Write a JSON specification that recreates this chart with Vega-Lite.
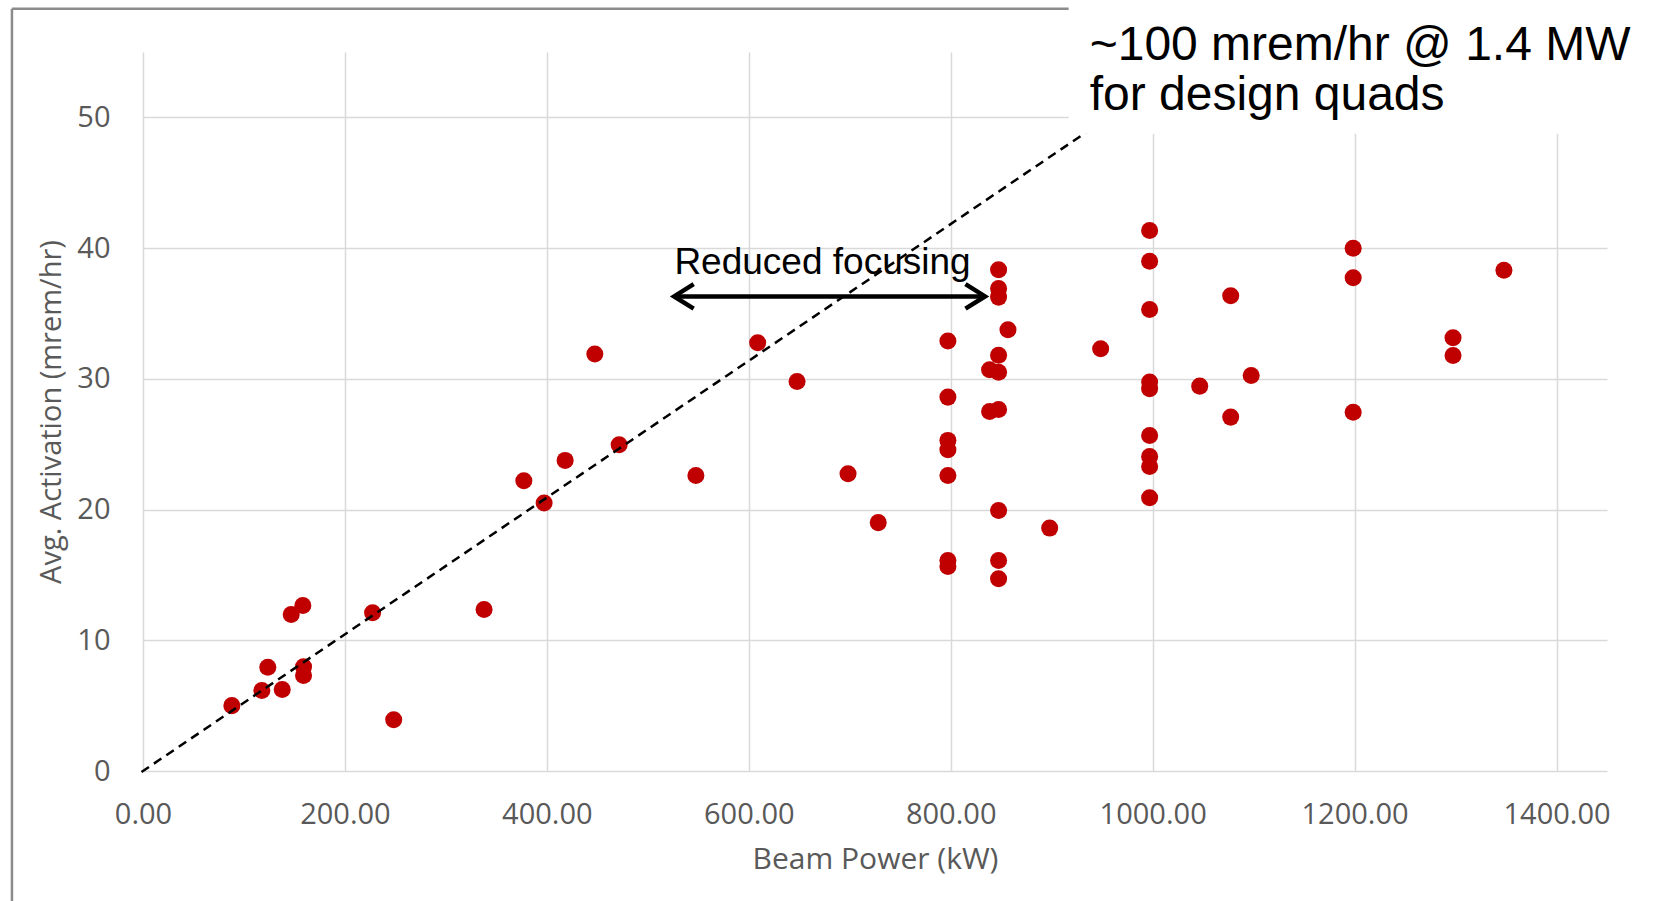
{
  "$schema": "https://vega.github.io/schema/vega-lite/v6.json",
  "width": 1464,
  "height": 719,
  "autosize": "none",
  "padding": {"left": 143, "top": 52, "right": 48, "bottom": 130},
  "background": "white",
  "config": {
    "view": {"stroke": null},
    "axis": {
      "labelFont": "Open Sans",
      "titleFont": "Open Sans",
      "labelColor": "#595959",
      "titleColor": "#595959",
      "labelFontSize": 29,
      "titleFontSize": 29,
      "titleFontWeight": "normal",
      "ticks": false,
      "tickSize": 0,
      "labelFlush": false,
      "gridColor": "#d9d9d9",
      "gridWidth": 1.5,
      "domain": false
    }
  },
  "data": {
    "values": [
      {"power": 88, "act": 5.0},
      {"power": 117.7, "act": 6.16},
      {"power": 123.6, "act": 7.93},
      {"power": 137.9, "act": 6.24},
      {"power": 146.8, "act": 11.97},
      {"power": 158.3, "act": 12.66},
      {"power": 159, "act": 7.98},
      {"power": 159, "act": 7.3},
      {"power": 227.4, "act": 12.1},
      {"power": 248.3, "act": 3.92},
      {"power": 337.8, "act": 12.36},
      {"power": 377.2, "act": 22.2},
      {"power": 397.3, "act": 20.5},
      {"power": 418.1, "act": 23.76},
      {"power": 447.5, "act": 31.9},
      {"power": 471.6, "act": 24.95},
      {"power": 547.6, "act": 22.6},
      {"power": 608.8, "act": 32.76},
      {"power": 647.8, "act": 29.8},
      {"power": 698.3, "act": 22.74},
      {"power": 728.2, "act": 19.0},
      {"power": 797.2, "act": 32.9},
      {"power": 797.2, "act": 28.6},
      {"power": 797.2, "act": 25.29},
      {"power": 797.2, "act": 24.57},
      {"power": 797.2, "act": 22.6},
      {"power": 797.2, "act": 16.1},
      {"power": 797.2, "act": 15.65},
      {"power": 838.5, "act": 30.7},
      {"power": 838.5, "act": 27.5},
      {"power": 847.4, "act": 38.35},
      {"power": 847.4, "act": 36.9},
      {"power": 847.4, "act": 36.25},
      {"power": 847.4, "act": 31.8},
      {"power": 847.4, "act": 30.5},
      {"power": 847.4, "act": 27.66},
      {"power": 847.4, "act": 19.93},
      {"power": 847.4, "act": 16.1},
      {"power": 847.4, "act": 14.7},
      {"power": 856.7, "act": 33.76},
      {"power": 898, "act": 18.58},
      {"power": 948.5, "act": 32.3},
      {"power": 997, "act": 41.35},
      {"power": 997, "act": 39.0},
      {"power": 997, "act": 35.3},
      {"power": 997, "act": 29.75},
      {"power": 997, "act": 29.24},
      {"power": 997, "act": 25.67},
      {"power": 997, "act": 24.06},
      {"power": 997, "act": 23.3},
      {"power": 997, "act": 20.9},
      {"power": 1046.6, "act": 29.44},
      {"power": 1077.3, "act": 36.36},
      {"power": 1077.3, "act": 27.07},
      {"power": 1097.6, "act": 30.26},
      {"power": 1198.6, "act": 39.98},
      {"power": 1198.6, "act": 37.73},
      {"power": 1198.6, "act": 27.45},
      {"power": 1297.5, "act": 33.14},
      {"power": 1297.5, "act": 31.79},
      {"power": 1347.9, "act": 38.3}
    ]
  },
  "layer": [
    {
      "mark": {"type": "point", "shape": "circle", "filled": true, "opacity": 1, "color": "#c00000", "size": 290},
      "encoding": {
        "x": {
          "field": "power", "type": "quantitative",
          "scale": {"domain": [0, 1450], "nice": false, "zero": false},
          "axis": {
            "values": [0, 200, 400, 600, 800, 1000, 1200, 1400],
            "format": ".2f",
            "labelPadding": 29,
            "title": "Beam Power (kW)",
            "titleFontSize": 30,
            "titlePadding": 15
          }
        },
        "y": {
          "field": "act", "type": "quantitative",
          "scale": {"domain": [0, 55], "nice": false, "zero": false},
          "axis": {
            "values": [0, 10, 20, 30, 40, 50],
            "labelPadding": 33,
            "title": "Avg. Activation (mrem/hr)",
            "titleFontSize": 29,
            "titlePadding": 10
          }
        }
      }
    },
    {
      "data": {"values": [{}]},
      "mark": {"type": "rule", "color": "black", "strokeWidth": 2.5, "strokeDash": [9, 6]},
      "encoding": {
        "x": {"datum": -1.5},
        "y": {"datum": -0.08},
        "x2": {"datum": 1000},
        "y2": {"datum": 52.3}
      }
    },
    {
      "data": {"values": [{}]},
      "mark": {"type": "rule", "color": "#8c8c8c", "strokeWidth": 2.5},
      "encoding": {
        "x": {"datum": -129.8},
        "y": {"datum": -20},
        "y2": {"datum": 58.3}
      }
    },
    {
      "data": {"values": [{}]},
      "mark": {"type": "rule", "color": "#8c8c8c", "strokeWidth": 2.5},
      "encoding": {
        "x": {"datum": -129.8},
        "x2": {"datum": 1500},
        "y": {"datum": 58.3}
      }
    },
    {
      "data": {"values": [{}]},
      "mark": {"type": "rect", "color": "white", "opacity": 1},
      "encoding": {
        "x": {"datum": 916.8},
        "x2": {"datum": 1700},
        "y": {"datum": 48.75},
        "y2": {"datum": 70}
      }
    },
    {
      "data": {"values": [{}]},
      "mark": {
        "type": "text",
        "text": ["~100 mrem/hr @ 1.4 MW", "for design quads"],
        "font": "Liberation Sans",
        "fontSize": 48,
        "lineHeight": 50,
        "align": "left",
        "baseline": "alphabetic",
        "color": "black"
      },
      "encoding": {
        "x": {"datum": 937.6},
        "y": {"datum": 54.4}
      }
    },
    {
      "data": {"values": [{}]},
      "mark": {"type": "rule", "color": "black", "strokeWidth": 4.5},
      "encoding": {
        "x": {"datum": 526},
        "x2": {"datum": 834},
        "y": {"datum": 36.3}
      }
    },
    {
      "data": {"values": [{}]},
      "mark": {"type": "point", "shape": "M1.6,-1L0,0L1.6,1", "filled": false, "opacity": 1, "color": "black", "strokeWidth": 4.5, "size": 600},
      "encoding": {
        "x": {"datum": 526},
        "y": {"datum": 36.3}
      }
    },
    {
      "data": {"values": [{}]},
      "mark": {"type": "point", "shape": "M-1.6,-1L0,0L-1.6,1", "filled": false, "opacity": 1, "color": "black", "strokeWidth": 4.5, "size": 600},
      "encoding": {
        "x": {"datum": 834},
        "y": {"datum": 36.3}
      }
    },
    {
      "data": {"values": [{}]},
      "mark": {
        "type": "text",
        "text": "Reduced focusing",
        "font": "Liberation Sans",
        "fontSize": 37,
        "align": "center",
        "baseline": "alphabetic",
        "color": "black"
      },
      "encoding": {
        "x": {"datum": 673},
        "y": {"datum": 38.0}
      }
    }
  ]
}
